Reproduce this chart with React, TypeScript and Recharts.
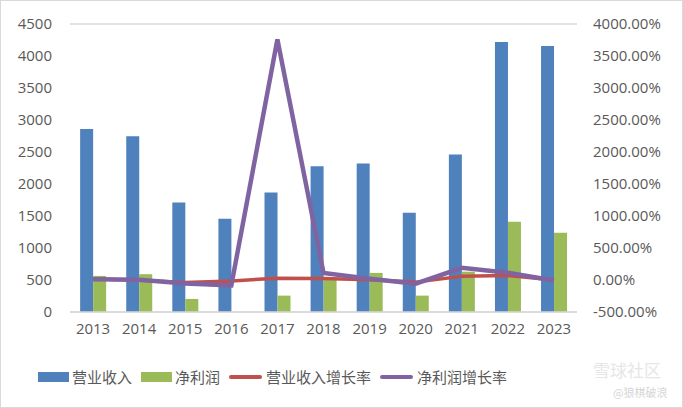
import React from 'react';
import {
  ComposedChart,
  Bar,
  Line,
  XAxis,
  YAxis,
  CartesianGrid,
} from 'recharts';

const YEARS = ['2013', '2014', '2015', '2016', '2017', '2018', '2019', '2020', '2021', '2022', '2023'];
const REVENUE = [2860, 2745, 1710, 1458, 1866, 2278, 2320, 1552, 2462, 4218, 4155];
const NET_PROFIT = [564, 591, 204, 0, 256, 520, 611, 256, 630, 1411, 1239];
const REVENUE_GROWTH = [20, -4, -38, -15, 28, 22, 2, -33, 59, 71, -2];
const PROFIT_GROWTH = [10, 5, -55, -85, 3760, 110, 20, -58, 190, 115, -8];

const LEFT_TICKS = [0, 500, 1000, 1500, 2000, 2500, 3000, 3500, 4000, 4500];
const RIGHT_TICKS = [-500, 0, 500, 1000, 1500, 2000, 2500, 3000, 3500, 4000];

const NAMES = ['营业收入', '净利润', '营业收入增长率', '净利润增长率'];
const COLORS = ['#4f81bd', '#9bbb59', '#c0504d', '#8064a2'];

const data = YEARS.map((year, i) => ({
  year,
  revenue: REVENUE[i],
  profit: NET_PROFIT[i],
  revGrowth: REVENUE_GROWTH[i],
  profitGrowth: PROFIT_GROWTH[i],
}));

const tickStyle = { fill: '#595959', fontSize: 15, fontFamily: '"Open Sans", sans-serif' };

function ChartLegend() {
  return (
    <div
      style={{
        position: 'absolute',
        left: 37,
        top: 365,
        display: 'flex',
        alignItems: 'center',
        fontFamily: '"Noto Sans CJK SC", sans-serif',
        fontSize: 15,
        color: '#595959',
      }}
    >
      {NAMES.map((name, i) => (
        <div key={name} style={{ display: 'flex', alignItems: 'center', marginRight: 9 }}>
          {i < 2 ? (
            <span style={{ width: 31, height: 10, background: COLORS[i], marginRight: 3 }} />
          ) : (
            <span style={{ width: 33, height: 4, borderRadius: 2, background: COLORS[i], marginRight: 4 }} />
          )}
          <span>{name}</span>
        </div>
      ))}
    </div>
  );
}

export default function App() {
  return (
    <div
      style={{
        position: 'fixed',
        left: 0,
        top: 0,
        width: 683,
        height: 408,
        background: '#fff',
        border: '1px solid #d9d9d9',
        boxSizing: 'border-box',
        overflow: 'hidden',
      }}
    >
      <ComposedChart
        width={683}
        height={408}
        data={data}
        margin={{ top: 23, right: 0, bottom: 62, left: -1 }}
        barCategoryGap="22%"
        barGap={0}
      >
        <CartesianGrid vertical={false} stroke="#d9d9d9" strokeWidth={1.5} />
        <XAxis
          dataKey="year"
          axisLine={{ stroke: '#d9d9d9', strokeWidth: 1.5 }}
          tickLine={false}
          tickSize={0}
          tickMargin={11}
          height={35}
          tick={tickStyle}
        />
        <YAxis
          yAxisId="left"
          domain={[0, 4500]}
          ticks={LEFT_TICKS}
          axisLine={false}
          tickLine={false}
          tickSize={0}
          tickMargin={18}
          width={70}
          tick={tickStyle}
          interval={0}
        />
        <YAxis
          yAxisId="right"
          orientation="right"
          domain={[-500, 4000]}
          ticks={RIGHT_TICKS}
          tickFormatter={(v: number) => `${v.toFixed(2)}%`}
          axisLine={false}
          tickLine={false}
          tickSize={0}
          tickMargin={16}
          width={107}
          tick={{ ...tickStyle, textAnchor: 'start' }}
          interval={0}
        />
        <Bar yAxisId="left" dataKey="revenue" name={NAMES[0]} fill={COLORS[0]} isAnimationActive={false} />
        <Bar yAxisId="left" dataKey="profit" name={NAMES[1]} fill={COLORS[1]} isAnimationActive={false} />
        <Line
          yAxisId="right"
          dataKey="revGrowth"
          name={NAMES[2]}
          stroke={COLORS[2]}
          strokeWidth={3.5}
          dot={false}
          type="linear"
          isAnimationActive={false}
        />
        <Line
          yAxisId="right"
          dataKey="profitGrowth"
          name={NAMES[3]}
          stroke={COLORS[3]}
          strokeWidth={4.5}
          dot={false}
          type="linear"
          isAnimationActive={false}
        />
      </ComposedChart>
      <ChartLegend />
      <div style={{ position: 'absolute', left: 592, top: 356, fontFamily: '"Noto Sans CJK SC", sans-serif', fontSize: 17, color: '#e6e6e6' }}>
        雪球社区
      </div>
      <div style={{ position: 'absolute', left: 612, top: 383, fontFamily: '"Noto Sans CJK SC", sans-serif', fontSize: 11, color: '#d6d6d6' }}>
        @狼棋破浪
      </div>
    </div>
  );
}
